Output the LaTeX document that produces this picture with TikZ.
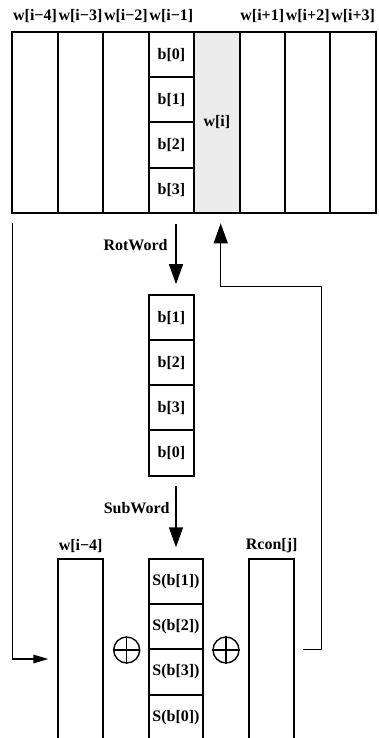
\documentclass[tikz,border=0pt]{standalone}
\usepackage{fontspec}
\setmainfont{Liberation Serif}
\usetikzlibrary{arrows.meta}
\begin{document}
\begin{tikzpicture}[x=1pt,y=-1pt,
  txt/.style={font=\bfseries\fontsize{16}{18}\selectfont},
  cell/.style={draw,line width=2pt,inner sep=0pt,txt},
  col/.style={cell,minimum width=45.45pt,minimum height=180.4pt},
  bcell/.style={cell,minimum width=45.45pt,minimum height=45.1pt},
  scell/.style={cell,minimum width=54pt,minimum height=45.3pt},
  tall/.style={cell,minimum width=45.3pt,minimum height=181.2pt},
  lbl/.style={inner sep=0pt,txt},
  conn/.style={line width=1.5pt},
  arr/.style={conn,-{Triangle[length=20pt,width=14pt]}},
  sarr/.style={conn,-{Triangle[length=15pt,width=8.5pt]}},
  xor/.style={circle,draw,line width=1.4pt,minimum size=26pt,inner sep=0pt},
]
\useasboundingbox (0,0) rectangle (379,738);
\begin{scope}
\clip (0,0) rectangle (379,738);

% key schedule words
\node[col] (c1) at (35.03,122.5) {};
\node[col] (c2) at (80.48,122.5) {};
\node[col] (c3) at (125.93,122.5) {};
\node[col] (c4) at (171.38,122.5) {};
\node[col,fill=gray!15] (wi) at (216.83,122.5) {w[i]};
\node[col] (c6) at (262.28,122.5) {};
\node[col] (c7) at (307.73,122.5) {};
\node[col] (c8) at (353.18,122.5) {};

\foreach \n/\t in {c1/w[i−4],c2/w[i−3],c3/w[i−2],c4/w[i−1],c6/w[i+1],c7/w[i+2],c8/w[i+3]}
  \node[lbl] at (\n.center |- 0,16.5) {\t};

% bytes of w[i-1]
\node[bcell] (b0) at (171.38,54.85) {b[0]};
\node[bcell] (b1) at (171.38,99.95) {b[1]};
\node[bcell] (b2) at (171.38,145.05) {b[2]};
\node[bcell] (b3) at (171.38,190.15) {b[3]};

% rotated word
\node[bcell] (r1) at (171.38,317.7) {b[1]};
\node[bcell] (r2) at (171.38,362.8) {b[2]};
\node[bcell] (r3) at (171.38,407.9) {b[3]};
\node[bcell] (r4) at (171.38,453.0) {b[0]};

% substituted word and operands
\node[scell] (s1) at (176,581.35) {S(b[1])};
\node[scell] (s2) at (176,626.65) {S(b[2])};
\node[scell] (s3) at (176,671.95) {S(b[3])};
\node[scell] (s4) at (176,717.25) {S(b[0])};

\node[tall] (wm4) at (80.65,649.3) {};
\node[tall] (rc) at (271.65,649.3) {};
\node[lbl] at (wm4.center |- 0,546) {w[i−4]};
\node[lbl] at (rc.center |- 0,546) {Rcon[j]};

% XOR symbols
\node[xor] (x1) at (126.7,650) {};
\node[xor] (x2) at (226,650) {};
\foreach \x in {x1,x2}
  \draw[line width=1.4pt] (\x.north) -- (\x.south) (\x.west) -- (\x.east);

% RotWord / SubWord
\draw[arr,shorten <=10.3pt,shorten >=10pt] (s1.north |- b3.south) -- (s1.north |- r1.north);
\node[lbl] at (135.5,245) {RotWord};
\draw[arr,shorten <=9.7pt,shorten >=10.4pt] (s1.north |- r4.south) -- (s1.north);
\node[lbl] at (136.7,508) {SubWord};

% feedback into w[i]
\coordinate (fbStart) at (303.3,649.3);
\coordinate (fbTurn) at (321.7,286.7);
\coordinate (fbEnd) at (220.7,223.3);
\draw[arr] (fbStart) -| (fbTurn) -| (fbEnd);

% w[i-4] feed
\coordinate (lfStart) at (12.3,223.3);
\coordinate (lfEnd) at (48.3,659);
\draw[sarr] (lfStart) |- (lfEnd);
\end{scope}
\end{tikzpicture}
\end{document}
